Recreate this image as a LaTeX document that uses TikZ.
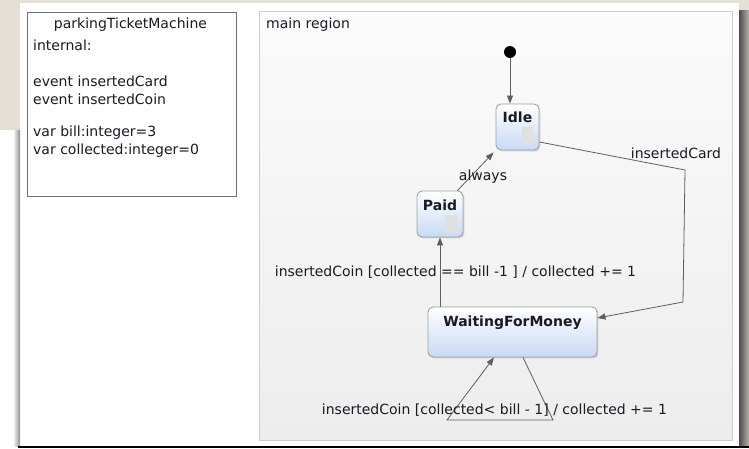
\documentclass[tikz,border=0pt]{standalone}
\usepackage{fontspec}
\setmainfont{DejaVu Sans}
\usetikzlibrary{arrows.meta,shadows}
\definecolor{deskbg}{HTML}{E5E0D6}
\definecolor{regionborder}{HTML}{CCCCCC}
\definecolor{regiontop}{HTML}{FBFBFB}
\definecolor{regionbottom}{HTML}{EDEDED}
\definecolor{stateblue}{HTML}{C8DAF4}
\definecolor{stateborder}{HTML}{A0A0A0}
\definecolor{txt}{HTML}{1A1A24}
\definecolor{edge}{HTML}{5E5E5E}
\definecolor{marker}{HTML}{E0E0E3}
\definecolor{boxborder}{HTML}{707070}
\begin{document}
\begin{tikzpicture}[x=1pt,y=-1pt,
  font=\fontsize{14}{18}\selectfont, text=txt,
  statebox/.style={rounded corners=5pt, draw=stateborder, line width=0.9pt,
    top color=white, bottom color=stateblue, inner sep=0pt,
    drop shadow={opacity=0.3, shadow xshift=1.4pt, shadow yshift=-1.4pt}},
  statename/.style={font=\fontsize{14}{18}\selectfont\bfseries, inner sep=0pt},
  tr/.style={draw=edge, line width=0.8pt, -{Triangle[length=8pt,width=6pt]}},
  lbl/.style={inner sep=0pt},
  decl/.style={inner sep=0pt, align=left, anchor=west}]

% desk, page and its shadows
\useasboundingbox (0,0) rectangle (749,448);
\fill[deskbg] (0,0) rectangle (749,448);
\fill[white] (20,3) rectangle (739,446);
\fill[white] (0,130) rectangle (20,448);
\shade[left color=white, right color=black!45] (13,130) rectangle (20,446);
\shade[left color=black!70, right color=deskbg!80!black] (739,10) rectangle (749,446);
\fill[black] (18,446) rectangle (749,448);

% interface declaration box
\node[draw=boxborder, line width=0.8pt, fill=white, minimum width=209pt,
  minimum height=184pt, inner sep=0pt] (iface) at (131.5,104) {};
\node[lbl] (ifacename) at (130.5,25) {parkingTicketMachine};
\node[decl] (internal) at (33,45) {internal:};
\node[decl] (events) at (33,90) {event insertedCard\\event insertedCoin};
\node[decl] (vars) at (33,142) {var bill:integer=3\\var collected:integer=0};

% main region
\node[draw=regionborder, line width=0.8pt, top color=regiontop,
  bottom color=regionbottom, minimum width=473pt, minimum height=429pt,
  inner sep=0pt] (region) at (495.5,225.5) {};
\node[lbl, anchor=west] (regionname) at (266,25) {main region};

% states
\node[circle, fill=black, minimum size=12pt, inner sep=0pt] (init) at (510,52) {};
\node[statebox, minimum width=43pt, minimum height=46pt] (idle) at (517.5,127) {};
\node[statebox, minimum width=46pt, minimum height=46pt] (paid) at (440,214) {};
\node[statebox, minimum width=169pt, minimum height=50pt] (wfm) at (512.5,332) {};

\node[statename] (idlename) at ([yshift=-14pt]idle.north) {Idle};
\node[statename] (paidname) at ([yshift=-15pt]paid.north) {Paid};
\node[statename] (wfmname) at ([yshift=-16pt]wfm.north) {WaitingForMoney};

\fill[marker] ([xshift=-6pt,yshift=5pt]idle.south east) rectangle ++(-11,-18);
\fill[marker] ([xshift=-5pt,yshift=4pt]paid.south east) rectangle ++(-13,-18);

% bend points of the routed transitions
\coordinate (cardA) at (685,170);
\coordinate (cardB) at (683,302);
\coordinate (loopA) at (553,420);
\coordinate (loopB) at (447,420);

% transitions
\draw[tr] (init) -- (init |- idle.north);
\draw[tr] ([yshift=-15pt]idle.east) -- (cardA) -- (cardB) -- ([yshift=14pt]wfm.east);
\draw[tr] ([xshift=-6pt]paid.north east) -- ([xshift=-2pt,yshift=-2pt]idle.south west);
\draw[tr] (paid.south |- wfm.north) -- (paid.south);
\draw[tr] ([xshift=10.5pt]wfm.south) -- (loopA) -- (loopB) -- ([xshift=-18.5pt]wfm.south);

% transition labels
\node[lbl] (cardlbl) at (676,153) {insertedCard};
\node[lbl] (alwayslbl) at (483,177) {always};
\node[lbl] (paylbl) at (455.5,272) {insertedCoin [collected == bill -1 ] / collected += 1};
\node[lbl] (looplbl) at (494.5,410) {insertedCoin [collected< bill - 1] / collected += 1};
\end{tikzpicture}
\end{document}
